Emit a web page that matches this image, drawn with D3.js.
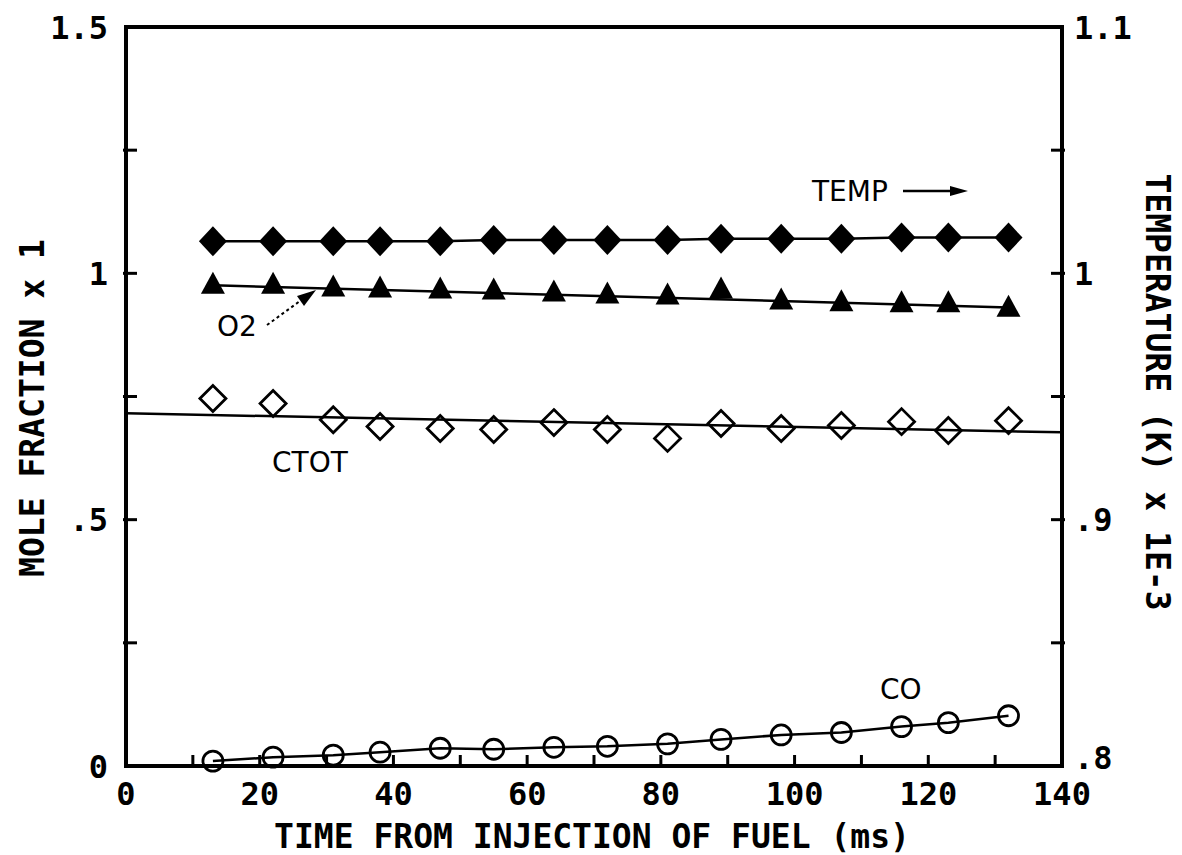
<!DOCTYPE html>
<html><head><meta charset="utf-8">
<script src="https://cdn.jsdelivr.net/npm/d3@7"></script>
<style>body{margin:0;background:#fff} svg{display:block}</style>
</head><body><svg id="c" width="1182" height="855"></svg>
<script>
// ---- data ----
const times = [13,22,31,38,47,55,64,72,81,89,98,107,116,123,132];
const temp  = [1.013,1.013,1.013,1.013,1.013,1.0135,1.0135,1.0135,1.0135,1.014,1.014,1.014,1.0145,1.0145,1.0145];
const o2    = [0.973,0.973,0.967,0.965,0.963,0.961,0.957,0.953,0.951,0.963,0.941,0.937,0.935,0.935,0.926];
const ctot  = [0.746,0.736,0.703,0.689,0.685,0.683,0.697,0.683,0.665,0.695,0.685,0.691,0.699,0.681,0.701];
const co    = [0.010,0.018,0.022,0.028,0.036,0.034,0.038,0.040,0.045,0.054,0.063,0.068,0.080,0.088,0.102];
const xTicks = [0,20,40,60,80,100,120,140];
const xMinor = [10,30,50,70,90,110,130];
const yLeftTicks = [0,0.5,1,1.5];
const yLeftLabels = ["0",".5","1","1.5"];
const yLeftMinor = [0.25,0.75,1.25];
const yRightTicks = [0.8,0.9,1,1.1];
const yRightLabels = [".8",".9","1","1.1"];
const yRightMinor = [0.85,0.95,1.05];

// ---- layout ----
const L = 126, R = 1062, T = 27, B = 766;
const svg = d3.select("#c");
const x = d3.scaleLinear().domain([0,140]).range([L,R]);
const yL = d3.scaleLinear().domain([0,1.5]).range([B,T]);
const yR = d3.scaleLinear().domain([0.8,1.1]).range([B,T]);

const boldFont = "'DejaVu Sans Mono', monospace";
const thinFont = "'DejaVu Sans', sans-serif";

function regress(xs, ys){
  const n = xs.length, mx = d3.mean(xs), my = d3.mean(ys);
  let sxy = 0, sxx = 0;
  for(let i=0;i<n;i++){ sxy += (xs[i]-mx)*(ys[i]-my); sxx += (xs[i]-mx)**2; }
  const b = sxy/sxx, a = my - b*mx;
  return t => a + b*t;
}

// ---- axes (frame + inward ticks) ----
const frame = svg.append("g");
frame.append("path")
  .attr("d", `M${L},${T}H${R}V${B}H${L}Z`)
  .attr("fill","none").attr("stroke","#000").attr("stroke-width",4);

const ax = svg.append("g").attr("stroke","#000").attr("stroke-width",3);
xTicks.concat(xMinor).forEach(v=>{
  if(v===0||v===140) return;
  ax.append("line").attr("x1",x(v)).attr("x2",x(v)).attr("y1",B).attr("y2",B-11);
});
yLeftTicks.concat(yLeftMinor).forEach(v=>{
  if(v===0||v===1.5) return;
  ax.append("line").attr("x1",L-3).attr("x2",L+11).attr("y1",yL(v)).attr("y2",yL(v));
});
yRightTicks.concat(yRightMinor).forEach(v=>{
  if(v===0.8||v===1.1) return;
  ax.append("line").attr("x1",R+3).attr("x2",R-11).attr("y1",yR(v)).attr("y2",yR(v));
});

// tick labels
const tl = svg.append("g").attr("font-family",boldFont).attr("font-weight","bold")
  .attr("font-size",32).attr("fill","#000");
xTicks.forEach(v=>{
  tl.append("text").attr("x",x(v)).attr("y",805).attr("text-anchor","middle").text(v);
});
yLeftTicks.forEach((v,i)=>{
  tl.append("text").attr("x",108).attr("y",yL(v)).attr("dy","0.36em")
    .attr("text-anchor","end").text(yLeftLabels[i]);
});
yRightTicks.forEach((v,i)=>{
  tl.append("text").attr("x",1074).attr("y",yR(v)).attr("dy",v===0.8?"0.1em":"0.36em")
    .attr("text-anchor","start").text(yRightLabels[i]);
});

// axis titles
const at = svg.append("g").attr("font-family",boldFont).attr("font-weight","bold")
  .attr("font-size",33).attr("fill","#000");
at.append("text").attr("x",592).attr("y",848).attr("text-anchor","middle")
  .text("TIME FROM INJECTION OF FUEL (ms)");
at.append("text").attr("transform","translate(44,408) rotate(-90)")
  .attr("text-anchor","middle").text("MOLE FRACTION x 1");
at.append("text").attr("transform","translate(1146,392) rotate(90)")
  .attr("text-anchor","middle").text("TEMPERATURE (K) x 1E-3");

// ---- series ----
const data = times.map((t,i)=>({t, temp:temp[i], o2:o2[i], ctot:ctot[i], co:co[i]}));
const lw = 2.5;

// CTOT regression line across full axis
const fC = regress(times, ctot);
svg.append("line").attr("x1",x(0)).attr("x2",x(140)).attr("y1",yL(fC(0))).attr("y2",yL(fC(140)))
  .attr("stroke","#000").attr("stroke-width",lw);
// O2 regression line over data range
const fO = regress(times, o2);
svg.append("line").attr("x1",x(times[0])).attr("x2",x(times[times.length-1]))
  .attr("y1",yL(fO(times[0]))).attr("y2",yL(fO(times[times.length-1])))
  .attr("stroke","#000").attr("stroke-width",lw);
// TEMP polyline
svg.append("path").datum(data)
  .attr("d", d3.line().x(d=>x(d.t)).y(d=>yR(d.temp)))
  .attr("fill","none").attr("stroke","#000").attr("stroke-width",lw);
// CO polyline
svg.append("path").datum(data)
  .attr("d", d3.line().x(d=>x(d.t)).y(d=>yL(d.co)))
  .attr("fill","none").attr("stroke","#000").attr("stroke-width",lw);

// markers
svg.append("g").selectAll("path").data(data).join("path")
  .attr("transform",d=>`translate(${x(d.t)},${yR(d.temp)})`)
  .attr("d","M0,-15L14,0L0,15L-14,0Z").attr("fill","#000");
svg.append("g").selectAll("path").data(data).join("path")
  .attr("transform",d=>`translate(${x(d.t)},${yL(d.o2)})`)
  .attr("d","M0,-15L12,7L-12,7Z").attr("fill","#000");
svg.append("g").selectAll("path").data(data).join("path")
  .attr("transform",d=>`translate(${x(d.t)},${yL(d.ctot)})`)
  .attr("d","M0,-13L13,0L0,13L-13,0Z").attr("fill","none")
  .attr("stroke","#000").attr("stroke-width",2.8);
svg.append("g").selectAll("circle").data(data).join("circle")
  .attr("cx",d=>x(d.t)).attr("cy",d=>yL(d.co)).attr("r",10)
  .attr("fill","none").attr("stroke","#000").attr("stroke-width",2.8);

// ---- annotations ----
const an = svg.append("g").attr("font-family",thinFont).attr("font-size",28).attr("fill","#000");
an.append("text").attr("x",812).attr("y",201).text("TEMP");
svg.append("line").attr("x1",903).attr("x2",952).attr("y1",191).attr("y2",191)
  .attr("stroke","#000").attr("stroke-width",2.5);
svg.append("path").attr("d","M950,186L968,191L950,196Z").attr("fill","#000");

an.append("text").attr("x",217).attr("y",336).text("O2");
svg.append("line").attr("x1",267).attr("y1",325).attr("x2",300).attr("y2",301)
  .attr("stroke","#000").attr("stroke-width",2).attr("stroke-dasharray","3,3");
svg.append("path").attr("d","M297,296L316,290L304,306Z").attr("fill","#000");

an.append("text").attr("x",272).attr("y",472).text("CTOT");
an.append("text").attr("x",880).attr("y",699).text("CO");
</script></body></html>
